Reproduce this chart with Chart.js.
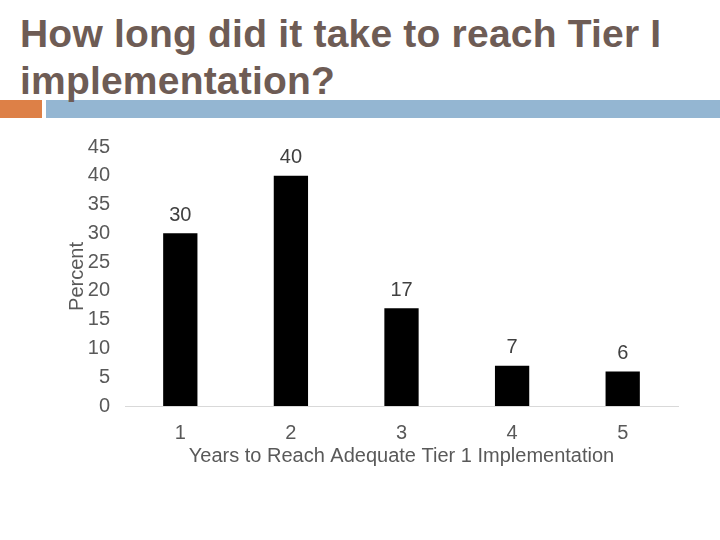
<!DOCTYPE html>
<html>
<head>
<meta charset="utf-8">
<script src="https://cdn.jsdelivr.net/npm/chart.js@4"></script>
<style>
  body { margin: 0; width: 720px; height: 540px; background: #fff; position: relative; overflow: hidden; }
  #title {
    position: absolute; left: 20px; top: 10px; width: 700px;
    font-family: "Liberation Sans", Arial, sans-serif;
    font-weight: bold; font-size: 39px; line-height: 47px; letter-spacing: 0.2px; color: #6e5c55;
  }
  #barOrange { position: absolute; left: 0; top: 100px; width: 42px; height: 18px; background: #dd8047; }
  #barBlue { position: absolute; left: 46px; top: 100px; width: 674px; height: 18px; background: #94b6d2; }
  #wrap { position: absolute; left: 0; top: 120px; width: 720px; height: 420px; }
</style>
</head>
<body>
<div id="barOrange"></div>
<div id="barBlue"></div>
<div id="title">How long did it take to reach Tier I implementation?</div>
<div id="wrap"><canvas id="chart"></canvas></div>
<script>
const years = ['1', '2', '3', '4', '5'];
const percents = [30, 40, 17, 7, 6];
const yTicks = [0, 5, 10, 15, 20, 25, 30, 35, 40, 45];

// draws the value above each bar
const valueLabels = {
    id: 'valueLabels',
    afterDatasetsDraw(chart) {
        const ctx = chart.ctx;
        const meta = chart.getDatasetMeta(0);
        ctx.save();
        ctx.font = '20px "Liberation Sans", Arial, sans-serif';
        ctx.fillStyle = '#404040';
        ctx.textAlign = 'center';
        ctx.textBaseline = 'middle';
        meta.data.forEach((bar, i) => {
            ctx.fillText(String(percents[i]), bar.x, bar.y - 18);
        });
        ctx.restore();
    }
};

const tickFont = { family: '"Liberation Sans", Arial, sans-serif', size: 20 };

new Chart(document.getElementById('chart'), {
    type: 'bar',
    data: {
        labels: years,
        datasets: [{
            data: percents,
            backgroundColor: '#000000',
            categoryPercentage: 1,
            barPercentage: 0.31
        }]
    },
    options: {
        responsive: true,
        maintainAspectRatio: false,
        animation: false,
        layout: { padding: { left: 65, right: 42, top: 20, bottom: 72 } },
        plugins: {
            legend: { display: false },
            tooltip: { enabled: false }
        },
        scales: {
            x: {
                grid: { display: false, drawTicks: false },
                border: { display: true, color: '#d9d9d9' },
                ticks: { color: '#595959', font: tickFont, padding: 15, maxRotation: 0 },
                title: {
                    display: true,
                    text: 'Years to Reach Adequate Tier 1 Implementation',
                    color: '#595959',
                    font: { family: '"Liberation Sans", Arial, sans-serif', size: 20 },
                    padding: { top: 0, bottom: 0 }
                },
                afterFit: s => { s.height = 62; }
            },
            y: {
                min: 0,
                max: 45,
                afterBuildTicks: s => { s.ticks = yTicks.map(v => ({ value: v })); },
                grid: { display: false, drawTicks: false },
                border: { display: false },
                ticks: { color: '#595959', font: tickFont, padding: 15 },
                title: {
                    display: true,
                    text: 'Percent',
                    color: '#595959',
                    font: { family: '"Liberation Sans", Arial, sans-serif', size: 20 },
                    padding: { top: 0, bottom: 0 }
                },
                afterFit: s => { s.width = 60; }
            }
        }
    },
    plugins: [valueLabels]
});
</script>
</body>
</html>
